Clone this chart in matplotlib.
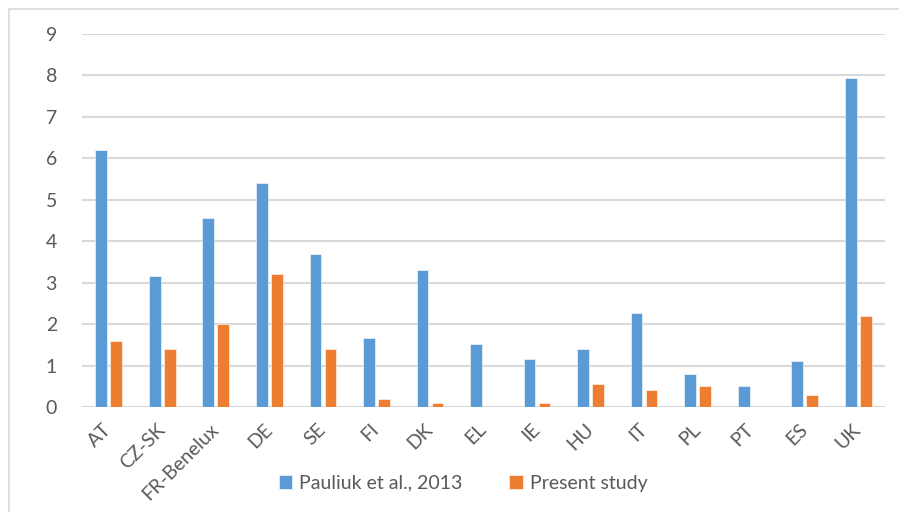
import matplotlib
matplotlib.use("Agg")
import matplotlib.pyplot as plt
from matplotlib.patches import Rectangle
import numpy as np

categories = ["AT", "CZ-SK", "FR-Benelux", "DE", "SE", "FI", "DK", "EL", "IE",
              "HU", "IT", "PL", "PT", "ES", "UK"]
pauliuk_2013 = [6.2, 3.15, 4.55, 5.4, 3.68, 1.67, 3.3, 1.52, 1.15,
                1.4, 2.26, 0.8, 0.51, 1.12, 7.94]
present_study = [1.6, 1.4, 2.0, 3.2, 1.4, 0.2, 0.1, 0.0, 0.1,
                 0.55, 0.4, 0.5, 0.0, 0.28, 2.2]
series_names = ["Pauliuk et al., 2013", "Present study"]
y_ticks = list(range(0, 10))

plt.rcParams['font.family'] = ['Lato', 'DejaVu Sans']

fig = plt.figure(figsize=(8.99, 5.12), dpi=100)
ax = fig.add_axes([82/899, 1 - 407/512, 803/899, 373/512])

x = np.arange(len(categories))
w = 0.22
off = 0.14
ax.bar(x - off, pauliuk_2013, width=w, color="#5B9BD5", edgecolor="white",
       linewidth=0.4, label=series_names[0], zorder=3)
ax.bar(x + off, present_study, width=w, color="#ED7D31", edgecolor="white",
       linewidth=0.4, label=series_names[1], zorder=3)

ax.set_xlim(-0.5, len(categories) - 0.5)
ax.set_ylim(0, 9)
ax.set_yticks(y_ticks)
ax.set_yticklabels([str(t) for t in y_ticks])
ax.yaxis.grid(True, color="#D9D9D9", linewidth=1.5)
ax.set_axisbelow(True)
for s in ax.spines.values():
    s.set_visible(False)
ax.tick_params(axis='both', length=0, colors="#595959", labelsize=14)
ax.tick_params(axis='y', pad=18)
ax.set_xticks(x)
ax.set_xticklabels(categories, rotation=45, ha='right', va='center',
                   rotation_mode='anchor')
ax.tick_params(axis='x', pad=14)

leg = fig.legend(loc='center', bbox_to_anchor=(463/899, 1 - 483/512), ncol=2,
                 frameon=False, fontsize=14, handlelength=0.7,
                 handleheight=0.7, columnspacing=2.4, handletextpad=0.35)
for t in leg.get_texts():
    t.set_color("#595959")

fig.patches.append(Rectangle((9/899, -0.01), 1.0, 1 - 9/512 + 0.01,
                             transform=fig.transFigure, fill=False,
                             edgecolor="#D9D9D9", linewidth=1.2))

fig.savefig("out.png", dpi=100)
